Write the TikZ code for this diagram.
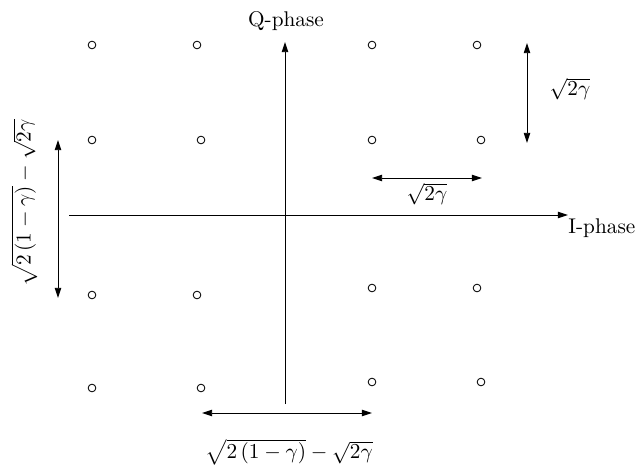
\documentclass[tikz,border=0pt]{standalone}
\usetikzlibrary{arrows.meta}
\begin{document}
\begin{tikzpicture}[x=0.47pt,y=-0.47pt,
  pt/.style={circle,draw,inner sep=0pt,minimum size=3.6pt,line width=0.4pt},
  tip/.tip={Triangle[length=4.8pt,width=3pt]},
  ax/.style={line width=0.45pt,-tip},
  dim/.style={line width=0.45pt,tip-tip},
  lbl/.style={inner sep=0pt}]
\useasboundingbox (0,0) rectangle (637,466);
% constellation points
\node[pt] (p11) at (92,45) {};
\node[pt] (p12) at (197,45) {};
\node[pt] (p13) at (372,45) {};
\node[pt] (p14) at (477,45) {};
\node[pt] (p21) at (92,140) {};
\node[pt] (p22) at (201,140) {};
\node[pt] (p23) at (372,140) {};
\node[pt] (p24) at (481,140) {};
\node[pt] (p31) at (92,295) {};
\node[pt] (p32) at (197,295) {};
\node[pt] (p33) at (372,288) {};
\node[pt] (p34) at (477,288) {};
\node[pt] (p41) at (92,388) {};
\node[pt] (p42) at (201,388) {};
\node[pt] (p43) at (372,382) {};
\node[pt] (p44) at (481,382) {};
% axes
\coordinate (qb) at (285,404);
\coordinate (qt) at (285,42);
\coordinate (il) at (69,215);
\coordinate (ir) at (568,215);
\draw[ax] (qb) -- (qt);
\draw[ax] (il) -- (ir);
\node[lbl] (qlab) at (286,21) {Q-phase};
\node[lbl,anchor=west] (ilab) at (568,228) {I-phase};
% dimension arrows
\coordinate (v1t) at (527,43);
\coordinate (v1b) at (527,143);
\draw[dim] (v1t) -- (v1b);
\node[lbl] (v1lab) at (570,89) {$\sqrt{2\gamma}$};
\coordinate (h1l) at (372,178);
\coordinate (h1r) at (482,178);
\draw[dim] (h1l) -- (h1r);
\node[lbl] (h1lab) at (427,194) {$\sqrt{2\gamma}$};
\coordinate (v2t) at (58,140);
\coordinate (v2b) at (58,298);
\draw[dim] (v2t) -- (v2b);
\node[lbl,rotate=90] (v2lab) at (24,203) {$\sqrt{2\,(1-\gamma)}-\sqrt{2\gamma}$};
\coordinate (h2l) at (202,413);
\coordinate (h2r) at (372,413);
\draw[dim] (h2l) -- (h2r);
\node[lbl] (h2lab) at (289,452) {$\sqrt{2\,(1-\gamma)}-\sqrt{2\gamma}$};
\end{tikzpicture}
\end{document}
